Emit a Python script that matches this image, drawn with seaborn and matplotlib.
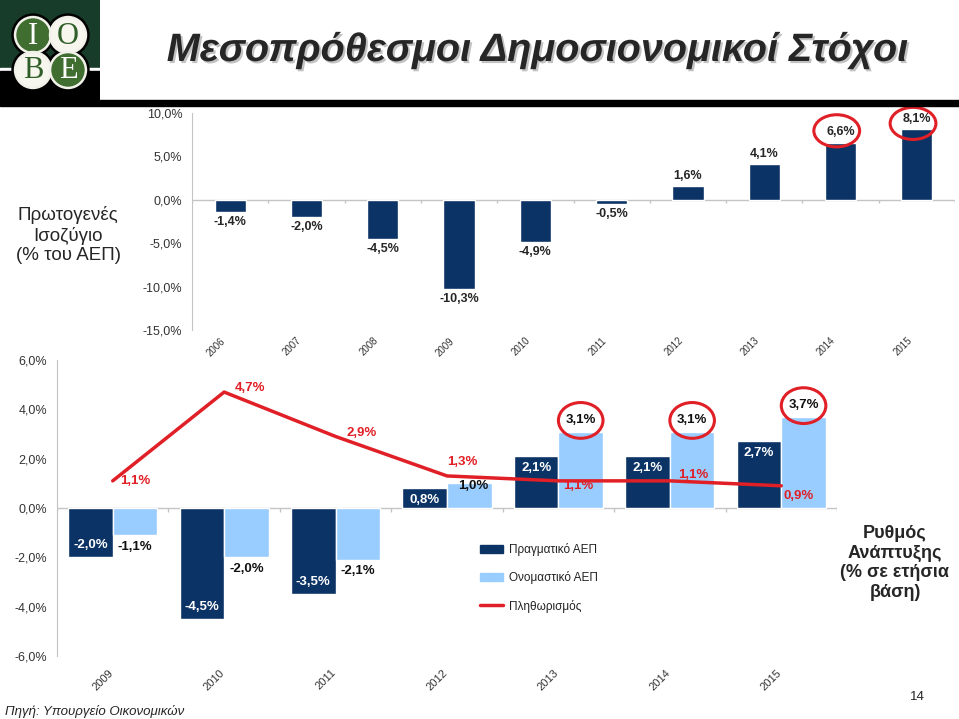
import numpy as np
import pandas as pd
import seaborn as sns
import matplotlib.pyplot as plt
import matplotlib.patheffects as pe
from matplotlib.patches import Ellipse, Rectangle, Circle, Patch
from matplotlib.lines import Line2D
from matplotlib.transforms import ScaledTranslation

# Top chart: primary balance (% of GDP)
pb_years = ['2006', '2007', '2008', '2009', '2010', '2011', '2012', '2013', '2014', '2015']
pb_values = [-1.4, -2.0, -4.5, -10.3, -4.9, -0.5, 1.6, 4.1, 6.6, 8.1]
pb_circled = [8, 9]

# Bottom chart: growth rates (% yoy)
gr_years = ['2009', '2010', '2011', '2012', '2013', '2014', '2015']
real_gdp = [-2.0, -4.5, -3.5, 0.8, 2.1, 2.1, 2.7]
nominal_gdp = [-1.1, -2.0, -2.1, 1.0, 3.1, 3.1, 3.7]
inflation = [1.1, 4.7, 2.9, 1.3, 1.1, 1.1, 0.9]
nominal_circled = [4, 5, 6]
series_names = ['Πραγματικό ΑΕΠ', 'Ονομαστικό ΑΕΠ', 'Πληθωρισμός']

NAVY = '#0b3365'
LIGHT = '#99ccff'
RED = '#e01f26'
GRID = '#c4c4c4'


def pct(v):
    return f'{v:.1f}%'.replace('.', ',')


sns.set_style('white')
plt.rcParams['font.family'] = ['Liberation Sans', 'DejaVu Sans']

fig = plt.figure(figsize=(9.59, 7.19), dpi=100)

# 🔹 Header: logo, title, black bar
logo = fig.add_axes([0, 1 - 100 / 719, 100 / 959, 100 / 719])
logo.set_xlim(0, 100)
logo.set_ylim(100, 0)
logo.axis('off')
logo.add_patch(Rectangle((0, 0), 100, 68, color='#173d2a'))
logo.add_patch(Rectangle((0, 68), 100, 2.5, color='white'))
logo.add_patch(Rectangle((0, 70.5), 100, 30, color='black'))
centers = [(33, 35), (68, 35), (33, 70), (68, 70)]
for cx, cy in centers:
    logo.add_patch(Circle((cx, cy), 21, color='black'))
for (cx, cy), letter, green in zip(centers, ['Ι', 'Ο', 'Β', 'Ε'], [True, False, False, True]):
    logo.add_patch(Circle((cx, cy), 18.5, color='#f2f2ea'))
    logo.add_patch(Circle((cx, cy), 16, color='#3f6e30' if green else '#f6f6ee'))
    logo.text(cx, cy + 1, letter, ha='center', va='center', fontsize=22,
              family='Liberation Serif', color='white' if green else '#2f5e28')

fig.patches.append(Rectangle((0, 1 - 106 / 719), 1, 6 / 719, transform=fig.transFigure,
                             color='black'))
fig.text(538 / 959, 1 - 50 / 719, 'Μεσοπρόθεσμοι Δημοσιονομικοί Στόχοι',
         ha='center', va='center', fontsize=28.5, fontweight='bold', style='italic',
         path_effects=[pe.SimplePatchShadow(offset=(1.5, -1.5), shadow_rgbFace='#a8a8a8', alpha=0.7),
                       pe.Normal()])

# 🔹 Top chart - primary balance
ax1 = fig.add_axes([192 / 959, 1 - 330 / 719, 763 / 959, 217 / 719])
df_pb = pd.DataFrame({'year': pb_years, 'value': pb_values})
sns.barplot(data=df_pb, x='year', y='value', color=NAVY, saturation=1, width=0.41,
            errorbar=None, ax=ax1)
ax1.set_ylim(-15, 10)
ax1.set_xlim(-0.5, len(pb_years) - 0.5)
yt = np.arange(-15, 11, 5)
ax1.set_yticks(yt)
ax1.set_yticklabels([pct(v) for v in yt])
ax1.axhline(0, color=GRID, lw=1, zorder=0)
ax1.vlines(np.arange(len(pb_years) + 1) - 0.5, -0.4, 0, color=GRID, lw=1)
ax1.bar_label(ax1.containers[0], labels=[pct(v) for v in pb_values], padding=3,
              fontsize=9, fontweight='bold')
for i, dy in zip(pb_circled, [1.35, 0.7]):
    ax1.add_patch(Ellipse((i - 0.05, pb_values[i] + dy), 0.6, 3.7, fill=False,
                          ec=RED, lw=2.2, clip_on=False))

# 🔹 Bottom chart - growth rates
ax2 = fig.add_axes([57 / 959, 1 - 656 / 719, 780 / 959, 296 / 719])
df_gr = pd.DataFrame({
    'year': gr_years * 2,
    'value': real_gdp + nominal_gdp,
    'series': [series_names[0]] * len(gr_years) + [series_names[1]] * len(gr_years),
})
sns.barplot(data=df_gr, x='year', y='value', hue='series', palette=[NAVY, LIGHT],
            saturation=1, width=0.8, errorbar=None, legend=False, ax=ax2)
sns.lineplot(x=np.arange(len(gr_years)), y=inflation, color=RED, lw=2.5, ax=ax2)
ax2.set_ylim(-6, 6)
ax2.set_xlim(-0.5, len(gr_years) - 0.5)
ax2.set_xticks(np.arange(len(gr_years)))
ax2.set_xticklabels(gr_years)
yt2 = np.arange(-6, 7, 2)
ax2.set_yticks(yt2)
ax2.set_yticklabels([pct(v) for v in yt2])
ax2.axhline(0, color=GRID, lw=1, zorder=0)
ax2.vlines(np.arange(len(gr_years) + 1) - 0.5, -0.15, 0, color=GRID, lw=1)

ax2.bar_label(ax2.containers[0], labels=[pct(v) for v in real_gdp], padding=-13,
              fontsize=9.5, fontweight='bold', color='white')
nom_labels = ax2.bar_label(ax2.containers[1], labels=[pct(v) for v in nominal_gdp], padding=4,
                           fontsize=9.5, fontweight='bold', color='#111111')
nom_labels[3].xyann = (3, -6)

infl_offsets = [(7, 0), (11, 4), (11, 3), (0, 14), (5, -5), (8, 6), (2, -10)]
for i, (v, off) in enumerate(zip(inflation, infl_offsets)):
    ax2.annotate(pct(v), (i, v), xytext=off, textcoords='offset pixels',
                 ha='left', va='center', fontsize=9.5, fontweight='bold', color=RED)

for i in nominal_circled:
    ax2.add_patch(Ellipse((i + 0.2, nominal_gdp[i] + 0.45), 0.4, 1.45, fill=False,
                          ec=RED, lw=2.2, clip_on=False))

handles = [Patch(color=NAVY), Patch(color=LIGHT), Line2D([], [], color=RED, lw=2.5)]
ax2.legend(handles, series_names, loc='upper left', bbox_to_anchor=(0.529, 0.418),
           frameon=False, fontsize=8.5, labelspacing=1.3, handlelength=1.9,
           handleheight=0.7, handletextpad=0.5, labelcolor='#222222')

for ax, xs, (dx, dy) in [(ax1, 7, (-10, 0)), (ax2, 8, (-5, -6))]:
    ax.set_xlabel('')
    ax.set_ylabel('')
    for s in ['top', 'right', 'bottom']:
        ax.spines[s].set_visible(False)
    ax.spines['left'].set_color(GRID)
    ax.tick_params(axis='y', length=4, color=GRID, labelsize=9, labelcolor='#333333', pad=3)
    ax.tick_params(axis='x', length=0, labelsize=xs, labelcolor='#333333', pad=4)
    shift = ScaledTranslation(dx / 100, dy / 100, fig.dpi_scale_trans)
    for lab in ax.get_xticklabels():
        lab.set_rotation(45)
        lab.set_ha('right')
        lab.set_rotation_mode('anchor')
        lab.set_transform(lab.get_transform() + shift)

# 🔹 Side texts
fig.text(68 / 959, 1 - 235 / 719, 'Πρωτογενές\nΙσοζύγιο\n(% του ΑΕΠ)', ha='center',
         va='center', fontsize=13.5, linespacing=1.2)
fig.text(895 / 959, 1 - 563 / 719, 'Ρυθμός\nΑνάπτυξης\n(% σε ετήσια\nβάση)', ha='center',
         va='center', fontsize=13, fontweight='bold', linespacing=1.2)
fig.text(5 / 959, 1 - 711 / 719, 'Πηγή: Υπουργείο Οικονομικών', ha='left', va='center',
         fontsize=9.5, style='italic')
fig.text(917 / 959, 1 - 697 / 719, '14', ha='center', va='center', fontsize=9.5)

fig.savefig('out.png', dpi=100)
